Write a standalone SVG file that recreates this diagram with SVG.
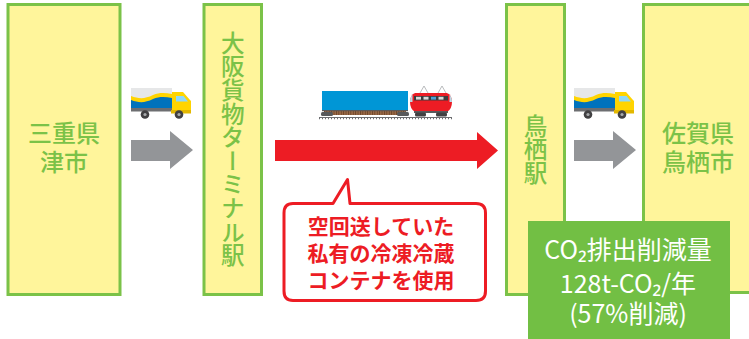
<svg xmlns="http://www.w3.org/2000/svg" width="749" height="339" viewBox="0 0 749 339">
  <style>
    .box { fill: #fff59b; stroke: #7bc248; stroke-width: 3; }
    .lbl { font-family: "Noto Sans CJK JP", "Noto Sans", sans-serif; font-weight: 500; fill: #7bc248; font-size: 24px; }
    .vlbl { font-family: "Noto Sans CJK JP", "Noto Sans", sans-serif; font-weight: 500; fill: #7bc248; font-size: 23.6px; writing-mode: vertical-rl; }
    .note { font-family: "Noto Sans CJK JP", "Noto Sans", sans-serif; font-weight: 700; fill: #ed1c24; font-size: 21px; text-anchor: middle; }
    .co2 { font-family: "Noto Sans CJK JP", "Noto Sans", sans-serif; font-weight: 400; fill: #ffffff; font-size: 25px; text-anchor: middle; }
    .grayArrow { fill: #939598; }
    .redArrow { fill: #ed1c24; }
  </style>
  <defs>
    <pattern id="deck" width="2.4" height="6" patternUnits="userSpaceOnUse">
      <rect width="2.4" height="6" fill="#9a6a48"/>
      <rect width="0.9" height="6" fill="#6b4428"/>
    </pattern>
    <!-- small cargo truck, origin at top-left of the cargo box -->
    <g id="truck">
      <rect x="0" y="0" width="41" height="21" fill="#e6e7e8"/>
      <path d="M0,8 C8,11 14,11 22,7 C29,4 35,5 41,6 L41,21 L0,21 Z" fill="#ffd400"/>
      <path d="M0,12 C8,15 14,15 22,11 C29,8 35,9 41,10 L41,21 L0,21 Z" fill="#0072bc"/>
      <rect x="0" y="20" width="41" height="3.5" fill="#6d6e71"/>
      <path d="M41,4 L52,4 L59,12 L60,13 L60,25 L41,25 Z" fill="#ffd400"/>
      <path d="M45,8 L52.5,8 L57,13.5 L45,13.5 Z" fill="#8ed8f8"/>
      <rect x="40" y="22" width="20" height="3.5" fill="#e3b800"/>
      <circle cx="14" cy="26.5" r="4.3" fill="#414042"/>
      <circle cx="14" cy="26.5" r="1.6" fill="#a7a9ac"/>
      <circle cx="48" cy="26.5" r="4.3" fill="#414042"/>
      <circle cx="48" cy="26.5" r="1.6" fill="#a7a9ac"/>
    </g>
  </defs>

  <!-- nodes -->
  <g id="tsu">
    <rect class="box" x="8" y="4.5" width="112" height="290"/>
    <text class="lbl" x="64" y="141.5" text-anchor="middle">三重県</text>
    <text class="lbl" x="64" y="170.5" text-anchor="middle">津市</text>
  </g>

  <g id="osaka-terminal">
    <rect class="box" x="204" y="4.5" width="57.5" height="290"/>
    <text class="vlbl" x="232.7" y="31">大阪貨物ターミナル駅</text>
  </g>

  <g id="tosu-station">
    <rect class="box" x="506.5" y="4.5" width="58" height="290"/>
    <text class="vlbl" x="535.5" y="114">鳥栖駅</text>
  </g>

  <g id="tosu-city">
    <rect class="box" x="643.5" y="4.5" width="120" height="288"/>
    <text class="lbl" x="698" y="141.5" text-anchor="middle">佐賀県</text>
    <text class="lbl" x="698" y="170.5" text-anchor="middle">鳥栖市</text>
  </g>

  <g id="reduction">
    <rect x="528" y="221" width="202" height="118" fill="#72bf44"/>
    <text class="co2" x="628" y="259">CO₂排出削減量</text>
    <text class="co2" x="628" y="292.5">128t-CO₂/年</text>
    <text class="co2" x="628" y="323">(57%削減)</text>
  </g>

  <!-- vehicles -->
  <g id="truck-1">
    <use href="#truck" x="131" y="88"/>
  </g>
  <g id="truck-2">
    <use href="#truck" x="574" y="88"/>
  </g>
  <g id="freight-train">
    <!-- track -->
    <line x1="319" y1="117.5" x2="452" y2="117.5" stroke="#6d6e71" stroke-width="1.2"/>
    <line x1="319" y1="118.5" x2="452" y2="118.5" stroke="#6d6e71" stroke-width="1.4" stroke-dasharray="1 2"/>
    <!-- container wagon -->
    <rect x="322" y="91" width="86" height="19" fill="#0096d6"/>
    <rect x="324" y="110" width="82" height="5" fill="url(#deck)"/>
    <rect x="322" y="110" width="86" height="1.2" fill="#58595b"/>
    <rect x="321" y="112" width="12" height="4" rx="1.5" fill="#58595b"/>
    <rect x="397" y="112" width="12" height="4" rx="1.5" fill="#58595b"/>
    <!-- locomotive -->
    <line x1="420" y1="93" x2="424" y2="86" stroke="#a7a9ac" stroke-width="0.8"/>
    <line x1="424" y1="86" x2="428" y2="93" stroke="#a7a9ac" stroke-width="0.8"/>
    <line x1="438" y1="93" x2="442" y2="86" stroke="#a7a9ac" stroke-width="0.8"/>
    <line x1="442" y1="86" x2="446" y2="93" stroke="#a7a9ac" stroke-width="0.8"/>
    <path d="M415,93 L447,93 Q452,95 452,102 Q452,109 447,112 L415,112 Q410,109 410,102 Q410,95 415,93 Z" fill="#ed1c24"/>
    <path d="M415,93 Q410,95 410,102 L412.5,102 L412.5,94 Z" fill="#bcd8e4"/>
    <path d="M447,93 Q452,95 452,102 L449.5,102 L449.5,94 Z" fill="#bcd8e4"/>
    <rect x="414" y="96" width="34" height="4.5" fill="#3c3c3e"/>
    <rect x="416" y="96.8" width="5" height="2.8" fill="#d9d9d9"/>
    <rect x="423.5" y="96.8" width="5" height="2.8" fill="#d9d9d9"/>
    <rect x="431" y="96.8" width="5" height="2.8" fill="#4c9fd6"/>
    <rect x="438.5" y="96.8" width="5" height="2.8" fill="#d9d9d9"/>
    <rect x="414" y="111" width="34" height="2" fill="#58595b"/>
    <rect x="415" y="112.5" width="11" height="4" rx="1.5" fill="#414042"/>
    <rect x="436" y="112.5" width="11" height="4" rx="1.5" fill="#414042"/>
  </g>

  <!-- connectors -->
  <g id="connectors">
    <path class="grayArrow" d="M131,140 L170,140 L170,131 L193,150 L170,169 L170,161 L131,161 Z"/>
    <path class="redArrow" d="M275,140 L477,140 L477,132 L498,150.5 L477,169 L477,161 L275,161 Z"/>
    <path class="grayArrow" d="M574,140 L613,140 L613,131 L636,150 L613,169 L613,161 L574,161 Z"/>
  </g>

  <!-- callout on the rail leg -->
  <g id="callout">
    <path d="M293,203.5 L333,203.5 L347.5,179.5 L350,203.5 L476,203.5 Q485.5,203.5 485.5,213 L485.5,291 Q485.5,300.5 476,300.5 L293,300.5 Q284,300.5 284,291 L284,213 Q284,203.5 293,203.5 Z" fill="#ffffff" stroke="#ed1c24" stroke-width="3" stroke-linejoin="round"/>
    <text class="note" x="381" y="233.5">空回送していた</text>
    <text class="note" x="381" y="260.5">私有の冷凍冷蔵</text>
    <text class="note" x="381" y="287.5">コンテナを使用</text>
  </g>
</svg>
